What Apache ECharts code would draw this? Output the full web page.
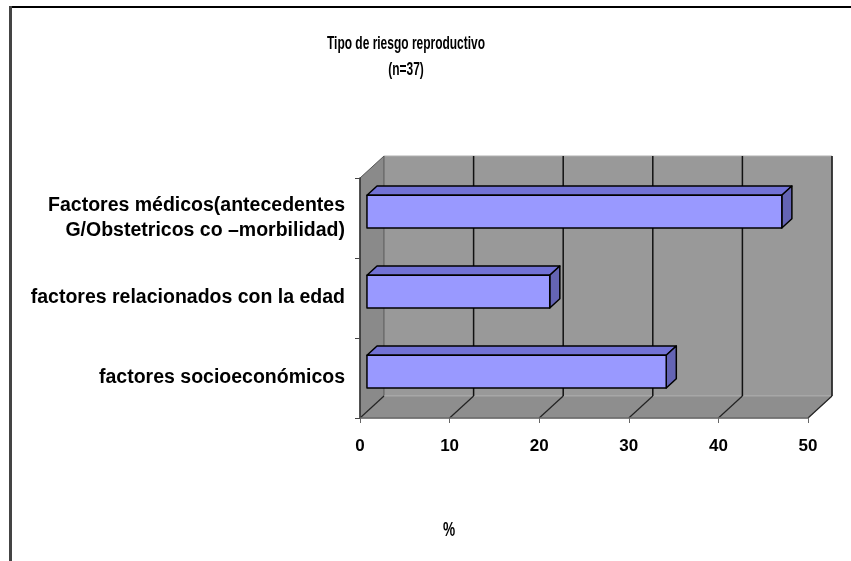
<!DOCTYPE html>
<html>
<head>
<meta charset="utf-8">
<script src="https://cdn.jsdelivr.net/npm/echarts@6/dist/echarts.min.js"></script>
<style>
  html, body { margin: 0; padding: 0; background: #fff; }
  #chart { width: 851px; height: 561px; }
</style>
</head>
<body>
<div id="chart"></div>
<script>
// data
const categories = [
    'Factores médicos(antecedentes\nG/Obstetricos co –morbilidad)',
    'factores relacionados con la edad',
    'factores socioeconómicos'
];
const values = [46.3, 20.4, 33.4];
const xTicks = [0, 10, 20, 30, 40, 50];
const titleLines = ['Tipo de riesgo reproductivo', '(n=37)'];

// depth of the fake 3d box, in pixels
const DX = 24, DY = -22;
const FONT = '"Liberation Sans", Arial, sans-serif';

const chart = echarts.init(document.getElementById('chart'));

function renderWalls(params, api) {
    const cs = params.coordSys;
    const x = cs.x, y = cs.y, w = cs.width, h = cs.height;
    const children = [
        { // back wall
            type: 'rect',
            shape: { x: x + DX, y: y + DY, width: w, height: h },
            style: { fill: '#999999', stroke: '#b0b0b0', lineWidth: 1 }
        },
        { // left wall
            type: 'polygon',
            shape: { points: [[x, y], [x + DX, y + DY], [x + DX, y + h + DY], [x, y + h]] },
            style: { fill: '#8a8a8a', stroke: '#555', lineWidth: 1 }
        },
        { // floor
            type: 'polygon',
            shape: { points: [[x, y + h], [x + w, y + h], [x + w + DX, y + h + DY], [x + DX, y + h + DY]] },
            style: { fill: '#8e8e8e', stroke: '#a8a8a8', lineWidth: 1 }
        }
    ];
    xTicks.forEach(function (t) {
        const tx = api.coord([t, 0])[0];
        if (t > 0) {
            children.push({
                type: 'line',
                shape: { x1: tx + DX, y1: y + DY, x2: tx + DX, y2: y + h + DY },
                style: { stroke: '#111', lineWidth: 1.5 }
            });
        }
        children.push({
            type: 'line',
            shape: { x1: tx, y1: y + h, x2: tx + DX, y2: y + h + DY },
            style: { stroke: '#222', lineWidth: 1.2 }
        });
    });
    return { type: 'group', children: children };
}

function renderBar(params, api) {
    const v = api.value(0);
    const idx = api.value(1);
    const p0 = api.coord([0, idx]);
    const p1 = api.coord([v, idx]);
    const band = api.size([0, 1])[1];
    const h = band * 0.41;
    const fx = DX * 0.29, fy = DY * 0.29;
    const dx = DX * 0.42, dy = DY * 0.42;
    const x0 = p0[0] + fx, x1 = p1[0] + fx;
    const yc = p0[1] + fy;
    const top = yc - h / 2, bot = yc + h / 2;
    const line = { stroke: '#000', lineWidth: 1.5, lineJoin: 'round' };
    return {
        type: 'group',
        children: [
            {
                type: 'polygon',
                shape: { points: [[x0, top], [x0 + dx, top + dy], [x1 + dx, top + dy], [x1, top]] },
                style: Object.assign({ fill: '#7272d6' }, line)
            },
            {
                type: 'polygon',
                shape: { points: [[x1, top], [x1 + dx, top + dy], [x1 + dx, bot + dy], [x1, bot]] },
                style: Object.assign({ fill: '#6464b4' }, line)
            },
            {
                type: 'rect',
                shape: { x: x0, y: top, width: x1 - x0, height: h },
                style: Object.assign({ fill: '#9999ff' }, line)
            }
        ]
    };
}

// condensed text, like the squeezed Excel fonts
function narrowText(text, x, y, size, sx) {
    return {
        type: 'text',
        x: x,
        y: y,
        scaleX: sx,
        style: {
            text: text,
            font: 'bold ' + size + 'px ' + FONT,
            fill: '#000',
            textAlign: 'center',
            textVerticalAlign: 'middle'
        }
    };
}

chart.setOption({
    backgroundColor: '#fff',
    animation: false,
    grid: {
        left: 360,
        right: 43,
        top: 178,
        bottom: 143
    },
    xAxis: {
        type: 'value',
        min: 0,
        max: 50,
        interval: 10,
        z: 10,
        splitLine: { show: false },
        axisLine: { show: true, lineStyle: { color: '#666', width: 1.5 } },
        axisTick: { show: true, length: 5, lineStyle: { color: '#666' } },
        axisLabel: {
            margin: 20,
            fontFamily: FONT,
            fontSize: 17,
            fontWeight: 'bold',
            color: '#000'
        }
    },
    yAxis: {
        type: 'category',
        data: categories,
        inverse: true,
        z: 10,
        axisLine: { show: true, lineStyle: { color: '#333', width: 1.5 } },
        axisTick: { show: true, length: 5, lineStyle: { color: '#444' } },
        axisLabel: {
            margin: 15,
            fontFamily: FONT,
            fontSize: 19.5,
            fontWeight: 'bold',
            color: '#000',
            lineHeight: 25
        }
    },
    graphic: [
        narrowText(titleLines[0], 406, 44, 19, 0.63),
        narrowText(titleLines[1], 406, 70, 19, 0.63),
        narrowText('%', 449, 530, 21, 0.65),
        {
            type: 'rect',
            shape: { x: 9, y: 6, width: 842, height: 2 },
            style: { fill: '#000' }
        },
        {
            type: 'rect',
            shape: { x: 9, y: 6, width: 3, height: 555 },
            style: { fill: '#444' }
        }
    ],
    series: [
        {
            type: 'custom',
            renderItem: renderWalls,
            data: [[0, 0]],
            encode: { x: 0, y: 1 },
            silent: true,
            z: 1
        },
        {
            type: 'custom',
            renderItem: renderBar,
            data: values.map(function (v, i) { return [v, i]; }),
            encode: { x: 0, y: 1 },
            z: 3
        }
    ]
});
</script>
</body>
</html>
